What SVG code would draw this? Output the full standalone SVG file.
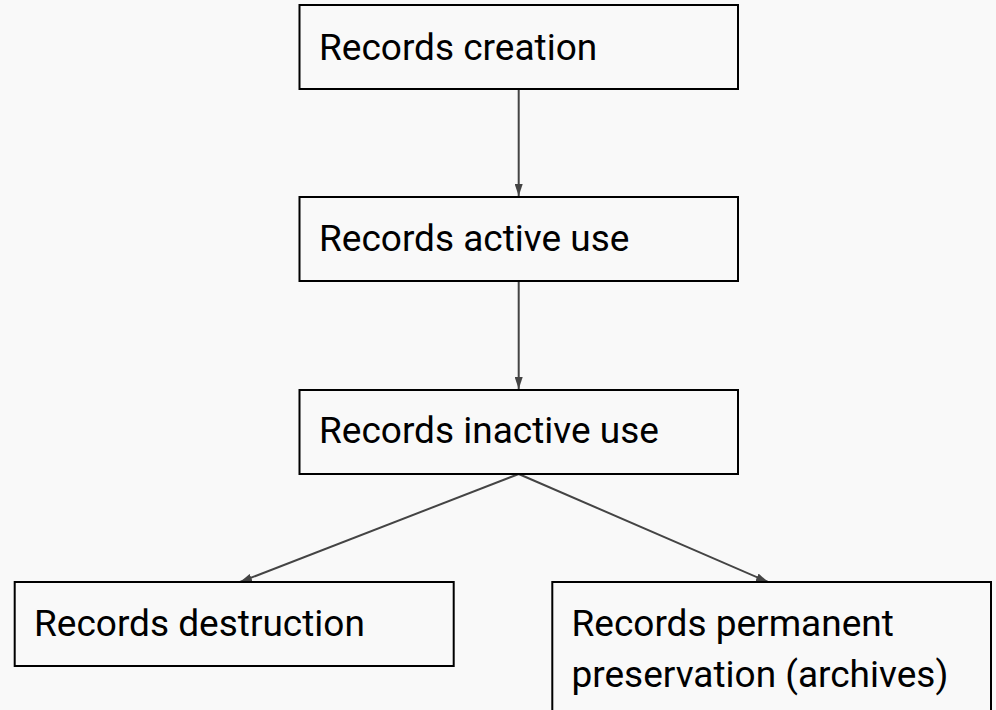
<svg xmlns="http://www.w3.org/2000/svg" width="996" height="710" viewBox="0 0 996 710">
<defs>
<style>
.box{fill:none;stroke:#000;stroke-width:2}
.lbl{font-family:Roboto,"Liberation Sans",sans-serif;font-size:37px;fill:#000}
.edge{stroke:#444;stroke-width:2;fill:none;marker-end:url(#ah)}
</style>
<marker id="ah" viewBox="0 0 12 8" refX="12" refY="4" markerWidth="12" markerHeight="8" markerUnits="userSpaceOnUse" orient="auto">
<path d="M0,0 L12,4 L0,8 Z" fill="#444"/>
</marker>
</defs>
<rect width="996" height="710" fill="#f9f9f9"/>
<g id="edges">
<line class="edge" x1="518.7" y1="89" x2="518.7" y2="196"/>
<line class="edge" x1="518.7" y1="282" x2="518.7" y2="389"/>
<line class="edge" x1="518.7" y1="474" x2="240" y2="582"/>
<line class="edge" x1="518.7" y1="474" x2="768" y2="582"/>
</g>
<g id="n1"><rect class="box" x="299.5" y="5" width="438.5" height="84"/><text class="lbl" x="319" y="60">Records creation</text></g>
<g id="n2"><rect class="box" x="299.5" y="197" width="438.5" height="84"/><text class="lbl" x="319" y="251">Records active use</text></g>
<g id="n3"><rect class="box" x="299.5" y="390" width="438.5" height="84"/><text class="lbl" x="319" y="443">Records inactive use</text></g>
<g id="n4"><rect class="box" x="14.7" y="582" width="439" height="84"/><text class="lbl" x="34" y="636">Records destruction</text></g>
<g id="n5"><rect class="box" x="552.3" y="582" width="438.7" height="140"/><text class="lbl" x="571.5" y="636">Records permanent</text><text class="lbl" x="571.5" y="687">preservation (archives)</text></g>
</svg>
